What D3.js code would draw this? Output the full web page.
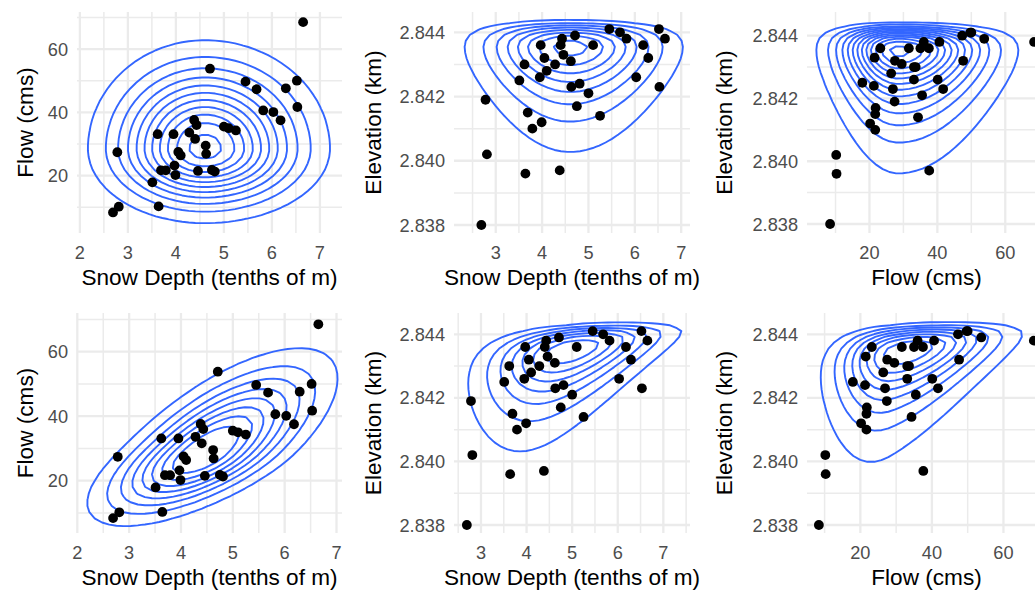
<!DOCTYPE html>
<html>
<head>
<meta charset="utf-8">
<script src="https://cdn.jsdelivr.net/npm/d3@7"></script>
<style>
  body { margin: 0; background: #fff; }
  svg { display: block; font-family: "Liberation Sans", Arial, Helvetica, sans-serif; }
  .tick-label { fill: #4d4d4d; font-size: 18.2px; }
  .axis-title { fill: #000; font-size: 22.6px; }
</style>
</head>
<body>
<svg id="chart" width="1035" height="590"></svg>
<script>
// observations (one entry per station-year, same order in every array)
const snowDepth = [6.65, 4.71, 5.45, 5.68, 6.29, 6.52, 6.53, 5.82, 6.03, 6.18,
  4.38, 4.43, 4.28, 4.40, 5.00, 5.10, 5.25, 3.62, 3.95, 4.05,
  4.10, 4.62, 4.63, 3.97, 3.99, 3.69, 3.79, 4.46, 4.75, 4.81,
  3.51, 2.78, 3.64, 2.81, 2.69];
const flow = [68.5, 53.8, 49.7, 47.3, 47.6, 50.0, 41.7, 40.6, 40.1, 37.5,
  37.6, 36.0, 33.6, 31.6, 35.5, 35.0, 34.3, 33.1, 33.1, 27.5,
  26.4, 29.5, 26.9, 23.2, 20.2, 21.7, 21.7, 21.5, 21.8, 21.3,
  17.9, 27.4, 10.3, 10.2, 8.4];
const elevation = [2.8438, 2.8439, 2.8441, 2.8440, 2.8432, 2.8441, 2.8423, 2.8438, 2.8426, 2.8436,
  2.8397, 2.8438, 2.8430, 2.8436, 2.8421, 2.8436, 2.8414, 2.8430, 2.8426, 2.8432,
  2.8428, 2.8431, 2.8423, 2.8436, 2.8412, 2.8415, 2.8410, 2.8433, 2.8417, 2.8424,
  2.8425, 2.8419, 2.8396, 2.8402, 2.8380];

const snowTicks = [2, 3, 4, 5, 6, 7];
const flowTicks = [20, 40, 60];
const elevTicks = [2.838, 2.840, 2.842, 2.844];

// marginal fits (split normal for snow & flow, reflected lognormal for elevation)
const snowFit = {mode: 4.6, sdLow: 1.1, sdHigh: 1.18};
const flowFit = {mode: 28.5, sdLow: 10.6, sdHigh: 15.5};
const elevFit = {upper: 2.84465, mode: 2.84353, logSd: 0.66};
// gaussian copula correlations for the bottom row
const copulaRho = {snowFlow: 0.70, snowElev: 0.50, flowElev: 0.40};

// ---- small stats helpers ----
function erfc(x) {
  const z = Math.abs(x), t = 1 / (1 + 0.5 * z);
  const r = t * Math.exp(-z * z - 1.26551223 + t * (1.00002368 + t * (0.37409196 + t * (0.09678418 +
    t * (-0.18628806 + t * (0.27886807 + t * (-1.13520398 + t * (1.48851587 +
    t * (-0.82215223 + t * 0.17087277)))))))));
  return x >= 0 ? r : 2 - r;
}
function qnorm(p) {
  const a = [-3.969683028665376e+01, 2.209460984245205e+02, -2.759285104469687e+02, 1.383577518672690e+02, -3.066479806614716e+01, 2.506628277459239e+00];
  const b = [-5.447609879822406e+01, 1.615858368580409e+02, -1.556989798598866e+02, 6.680131188771972e+01, -1.328068155288572e+01];
  const c = [-7.784894002430293e-03, -3.223964580411365e-01, -2.400758277161838e+00, -2.549732539343734e+00, 4.374664141464968e+00, 2.938163982698783e+00];
  const d = [7.784695709041462e-03, 3.224671290700398e-01, 2.445134137142996e+00, 3.754408661907416e+00];
  if (p <= 0) return -40;
  if (p < 0.02425) {
    const q = Math.sqrt(-2 * Math.log(p));
    return (((((c[0]*q+c[1])*q+c[2])*q+c[3])*q+c[4])*q+c[5]) / ((((d[0]*q+d[1])*q+d[2])*q+d[3])*q+1);
  }
  const q = p - 0.5, r = q * q;
  return (((((a[0]*r+a[1])*r+a[2])*r+a[3])*r+a[4])*r+a[5])*q / (((((b[0]*r+b[1])*r+b[2])*r+b[3])*r+b[4])*r+1);
}

function splitNormal(f) {
  const w = f.sdLow + f.sdHigh, A = Math.sqrt(2 / Math.PI) / w;
  return {
    pdf: x => { const s = x < f.mode ? f.sdLow : f.sdHigh; return A * Math.exp(-((x - f.mode) ** 2) / (2 * s * s)); },
    score: x => {
      if (x < f.mode) {
        const lo = (2 * f.sdLow / w) * 0.5 * erfc(-(x - f.mode) / f.sdLow / Math.SQRT2);
        return lo < 0.5 ? qnorm(lo) : -qnorm(1 - lo);
      }
      const hi = (2 * f.sdHigh / w) * 0.5 * erfc((x - f.mode) / f.sdHigh / Math.SQRT2);
      return hi < 0.5 ? -qnorm(hi) : qnorm(1 - hi);
    }
  };
}
function reflectedLogNormal(f) {
  const s = f.logSd, mu = Math.log(f.upper - f.mode) + s * s;
  return {
    pdf: x => { const d = f.upper - x; if (d <= 0) return 0;
      return Math.exp(-((Math.log(d) - mu) ** 2) / (2 * s * s)) / (d * s * Math.sqrt(2 * Math.PI)); },
    score: x => { const d = f.upper - x; if (d <= 0) return 40; return -(Math.log(d) - mu) / s; }
  };
}

const vars = {
  snow: {values: snowDepth, ticks: snowTicks, label: 'Snow Depth (tenths of m)', fmt: d3.format('d'),
         marg: splitNormal(snowFit), grid: [0, 9.5]},
  flow: {values: flow, ticks: flowTicks, label: 'Flow (cms)', fmt: d3.format('d'),
         marg: splitNormal(flowFit), grid: [-25, 110]},
  elev: {values: elevation, ticks: elevTicks, label: 'Elevation (km)', fmt: d3.format('.3f'),
         marg: reflectedLogNormal(elevFit), grid: [2.832, elevFit.upper]}
};

// levels = number of contour lines, gap = how far the top line sits below the peak
const panels = [
  {row: 0, col: 0, x: 'snow', y: 'flow', rho: 0, levels: 11, gap: 0.45, xDomain: [1.94, 7.46], yDomain: [1.9, 71.7]},
  {row: 0, col: 1, x: 'snow', y: 'elev', rho: 0, levels: 8, gap: 0.4, xDomain: [2.10, 7.19], yDomain: [2.837751, 2.844632]},
  {row: 0, col: 2, x: 'flow', y: 'elev', rho: 0, levels: 13, gap: 0.35, xDomain: [1.6, 72.0], yDomain: [2.837713, 2.844755]},
  {row: 1, col: 0, x: 'snow', y: 'flow', rho: copulaRho.snowFlow, levels: 8, gap: 1.4, xDomain: [1.994, 7.106], yDomain: [3.78, 72.0]},
  {row: 1, col: 1, x: 'snow', y: 'elev', rho: copulaRho.snowElev, levels: 7, gap: 0.9, xDomain: [2.408, 7.585], yDomain: [2.837748, 2.84467]},
  {row: 1, col: 2, x: 'flow', y: 'elev', rho: copulaRho.flowElev, levels: 8, gap: 0.9, xDomain: [5.08, 71.9], yDomain: [2.837748, 2.84467]}
];

const colX = [[77, 342], [454, 690], [807, 1046]];
const rowY = [[12, 233], [313, 533]];
const yTitleX = [33, 381, 732];
const gridN = 70;

const svg = d3.select('#chart');

function minorTicks(ticks, domain) {
  const step = ticks[1] - ticks[0];
  const out = [];
  for (let t = ticks[0] - step / 2; t <= ticks[ticks.length - 1] + step / 2 + 1e-9; t += step) out.push(+t.toFixed(6));
  return out.filter(t => t >= domain[0] && t <= domain[1]);
}

function densityGrid(vx, vy, rho) {
  const [x0, x1] = vx.grid, [y0, y1] = vy.grid;
  const sx = (x1 - x0) / (gridN - 1), sy = (y1 - y0) / (gridN - 1);
  const values = new Array(gridN * gridN);
  const k = 1 - rho * rho;
  for (let j = 0; j < gridN; j++) {
    const y = y0 + j * sy, fy = vy.marg.pdf(y), zy = vy.marg.score(y);
    for (let i = 0; i < gridN; i++) {
      const x = x0 + i * sx, fx = vx.marg.pdf(x);
      let v = fx * fy;
      if (v > 0 && rho !== 0) {
        const zx = vx.marg.score(x);
        v *= Math.exp(-(rho * rho * (zx * zx + zy * zy) - 2 * rho * zx * zy) / (2 * k)) / Math.sqrt(k);
      }
      values[j * gridN + i] = v;
    }
  }
  return {values, x0, y0, sx, sy};
}

panels.forEach((p, idx) => {
  const vx = vars[p.x], vy = vars[p.y];
  const [left, right] = colX[p.col], [top, bottom] = rowY[p.row];
  const x = d3.scaleLinear().domain(p.xDomain).range([left, right]);
  const y = d3.scaleLinear().domain(p.yDomain).range([bottom, top]);
  const g = svg.append('g');

  g.append('clipPath').attr('id', 'clip' + idx)
    .append('rect').attr('x', left).attr('y', top).attr('width', right - left).attr('height', bottom - top);

  const xMajor = vx.ticks.filter(t => t >= p.xDomain[0] && t <= p.xDomain[1]);
  const yMajor = vy.ticks.filter(t => t >= p.yDomain[0] && t <= p.yDomain[1]);
  const grid = g.append('g').attr('stroke', '#ebebeb').attr('fill', 'none');
  grid.selectAll('.vmin').data(minorTicks(vx.ticks, p.xDomain)).join('line')
    .attr('x1', d => x(d)).attr('x2', d => x(d)).attr('y1', top).attr('y2', bottom).attr('stroke-width', 1.5);
  grid.selectAll('.hmin').data(minorTicks(vy.ticks, p.yDomain)).join('line')
    .attr('y1', d => y(d)).attr('y2', d => y(d)).attr('x1', left).attr('x2', right).attr('stroke-width', 1.5);
  grid.selectAll('.vmaj').data(xMajor).join('line')
    .attr('x1', d => x(d)).attr('x2', d => x(d)).attr('y1', top).attr('y2', bottom).attr('stroke-width', 2.3);
  grid.selectAll('.hmaj').data(yMajor).join('line')
    .attr('y1', d => y(d)).attr('y2', d => y(d)).attr('x1', left).attr('x2', right).attr('stroke-width', 2.3);

  // density contours: independence (top row) or gaussian copula (bottom row)
  const dg = densityGrid(vx, vy, p.rho);
  const maxD = d3.max(dg.values);
  const thresholds = d3.range(1, p.levels + 1).map(j => j * maxD / (p.levels + p.gap));
  const contours = d3.contours().size([gridN, gridN]).thresholds(thresholds)(dg.values);
  const path = d3.geoPath(d3.geoTransform({
    point: function(cx, cy) {
      this.stream.point(x(dg.x0 + (cx - 0.5) * dg.sx), y(dg.y0 + (cy - 0.5) * dg.sy));
    }
  }));
  g.append('g').attr('clip-path', `url(#clip${idx})`)
    .selectAll('path').data(contours).join('path')
    .attr('d', path).attr('fill', 'none').attr('stroke', '#3366ff')
    .attr('stroke-width', 1.9).attr('stroke-linejoin', 'round');

  g.append('g').attr('clip-path', `url(#clip${idx})`)
    .selectAll('circle').data(d3.range(snowDepth.length)).join('circle')
    .attr('cx', i => x(vx.values[i])).attr('cy', i => y(vy.values[i]))
    .attr('r', 4.9).attr('fill', '#000');

  // tick labels
  g.selectAll('.xt').data(xMajor).join('text').attr('class', 'tick-label')
    .attr('x', d => x(d)).attr('y', bottom + 25.5).attr('text-anchor', 'middle').text(vx.fmt);
  g.selectAll('.yt').data(yMajor).join('text').attr('class', 'tick-label')
    .attr('x', left - 9).attr('y', d => y(d)).attr('dy', '0.36em').attr('text-anchor', 'end').text(vy.fmt);

  // axis titles
  g.append('text').attr('class', 'axis-title')
    .attr('x', (left + right) / 2).attr('y', bottom + 52).attr('text-anchor', 'middle').text(vx.label);
  g.append('text').attr('class', 'axis-title')
    .attr('transform', `translate(${yTitleX[p.col]},${(top + bottom) / 2}) rotate(-90)`)
    .attr('text-anchor', 'middle').text(vy.label);
});
</script>
</body>
</html>
